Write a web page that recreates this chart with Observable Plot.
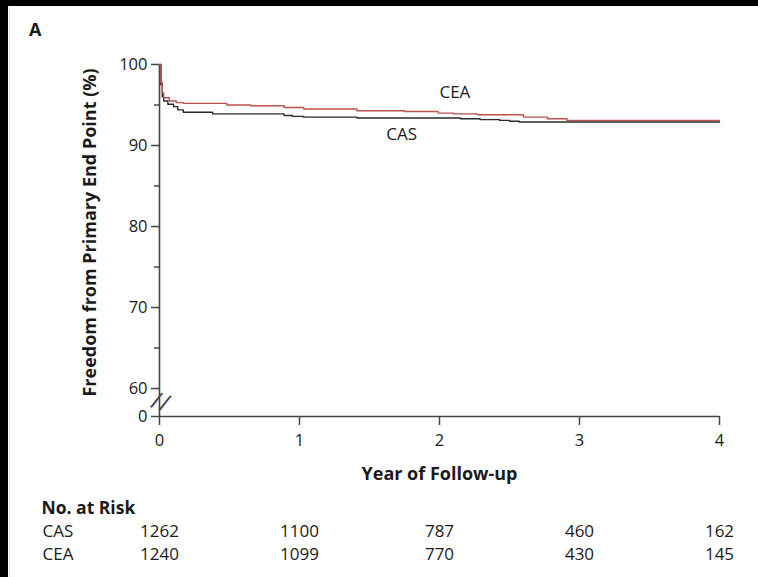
<!DOCTYPE html>
<html>
<head>
<meta charset="utf-8">
<script src="https://cdn.jsdelivr.net/npm/d3@7"></script>
<script src="https://cdn.jsdelivr.net/npm/@observablehq/plot@0.6"></script>
<style>
  body { margin: 0; background: #fff; }
  #fig { position: relative; width: 758px; height: 577px; overflow: hidden; background: #fff;
         font-family: "Open Sans", sans-serif; color: #1a1a1a; }
  #fig svg { display: block; }
  .edge-top { position: absolute; left: 0; top: 0; width: 758px; height: 6px; background: #000; }
  .edge-left { position: absolute; left: 0; top: 0; width: 8px; height: 577px; background: #000; }
  .edge-line { position: absolute; left: 9px; top: 6px; width: 1px; height: 571px; background: #e4e4e4; }
  #panel { position: absolute; left: 29px; top: 20px; font-weight: bold; font-size: 18px; line-height: 1; }
</style>
</head>
<body>
<div id="fig">
  <div id="chart"></div>
  <div id="risk"></div>
  <div id="panel">A</div>
  <div class="edge-top"></div>
  <div class="edge-left"></div>
  <div class="edge-line"></div>
</div>
<script>
// Kaplan–Meier estimates: freedom from the primary end point (%) by year of follow-up
const casYears = [0, 0.01, 0.02, 0.03, 0.06, 0.1, 0.13, 0.17, 0.38, 0.89, 0.95, 1.03, 1.41, 2.15, 2.29, 2.43, 2.5, 2.57, 4.0];
const casFree  = [100, 97.5, 96.0, 95.5, 95.1, 94.8, 94.4, 94.1, 93.9, 93.7, 93.6, 93.5, 93.4, 93.3, 93.2, 93.1, 93.0, 92.9, 92.9];

const ceaYears = [0, 0.01, 0.02, 0.03, 0.07, 0.12, 0.17, 0.48, 0.65, 0.89, 1.03, 1.41, 1.75, 1.99, 2.1, 2.27, 2.6, 2.77, 2.91, 4.0];
const ceaFree  = [100, 97.8, 96.5, 95.9, 95.5, 95.3, 95.2, 95.0, 94.9, 94.7, 94.5, 94.3, 94.2, 94.0, 93.9, 93.8, 93.5, 93.3, 93.1, 93.1];

const arms = ["CAS", "CEA"];
const armColors = ["#2a2a2a", "#bd514c"];

// in-plot curve labels
const labelNames  = ["CEA", "CAS"];
const labelYears  = [2.11, 1.73];
const labelValues = [96.5, 91.4];

// axis ticks (the y axis is broken between 0 and 60)
const xTicks = [0, 1, 2, 3, 4];
const yMajorTicks = [0, 60, 70, 80, 90, 100];
const yMinorTicks = [65, 75, 85, 95];
const yBreakLow = 0, yBreakHigh = 60;
const yBreakSpan = 3.45; // the 0–60 stretch is drawn as this many percentage points

// squeeze values below the break so 0–60 takes only a short stub of the axis
const squeeze = v => v >= yBreakHigh ? v : yBreakHigh - (yBreakHigh - v) * yBreakSpan / (yBreakHigh - yBreakLow);

// number at risk
const riskYears = [0, 1, 2, 3, 4];
const casRisk = [1262, 1100, 787, 460, 162];
const ceaRisk = [1240, 1099, 770, 430, 145];

const curves = [
  ...casYears.map((t, i) => ({arm: "CAS", year: t, free: casFree[i]})),
  ...ceaYears.map((t, i) => ({arm: "CEA", year: t, free: ceaFree[i]}))
];
const curveLabels = labelNames.map((name, i) => ({name, year: labelYears[i], free: labelValues[i]}));
const riskRows = [
  ...riskYears.map((t, i) => ({arm: "CAS", year: t, n: casRisk[i]})),
  ...riskYears.map((t, i) => ({arm: "CEA", year: t, n: ceaRisk[i]}))
];

const axisInk = "#444";
const textInk = "#1a1a1a";
const W = 758, ML = 159, MR = 39;

const chart = Plot.plot({
  width: W,
  height: 490,
  marginLeft: ML,
  marginRight: MR,
  marginTop: 64,
  marginBottom: 74,
  style: {fontFamily: "'Open Sans', sans-serif", fontSize: "16px", color: textInk, background: "transparent", overflow: "visible"},
  x: {domain: [0, 4], label: null},
  y: {transform: squeeze, domain: [squeeze(yBreakLow), 100], label: null},
  color: {domain: arms, range: armColors},
  marks: [
    Plot.ruleX([0], {stroke: axisInk, strokeWidth: 1.6}),
    Plot.ruleY([yBreakLow], {stroke: axisInk, strokeWidth: 1.6}),
    Plot.axisY(yMajorTicks, {tickSize: 8, tickPadding: 4, tickFormat: "d", stroke: axisInk, strokeWidth: 1.5, fill: textInk, fontSize: 16.5, label: null}),
    Plot.axisY(yMinorTicks, {tickSize: 5, tickFormat: () => "", stroke: axisInk, strokeWidth: 1.5, label: null}),
    Plot.axisX(xTicks, {tickSize: 9, tickPadding: 9, tickFormat: "d", stroke: axisInk, strokeWidth: 1.5, fill: textInk, fontSize: 16.5, label: null}),
    // axis break marker halfway between 0 and 60
    Plot.text([(yBreakLow + yBreakHigh) / 2], {
      x: xTicks[0], y: d => d, text: () => "//", fontSize: 24, rotate: 18, fill: axisInk, dy: 0, dx: 1
    }),
    Plot.line(curves, {x: "year", y: "free", z: "arm", stroke: "arm", strokeWidth: 1.4, curve: "step-after"}),
    Plot.text(curveLabels, {x: "year", y: "free", text: "name", fontSize: 17, fill: textInk}),
    Plot.text(["Freedom from Primary End Point (%)"], {
      frameAnchor: "left", textAnchor: "middle", rotate: -90, dx: -69, dy: -8, fontSize: 18, fontWeight: "bold", fill: textInk
    }),
    Plot.text(["Year of Follow-up"], {
      frameAnchor: "bottom", lineAnchor: "middle", dy: 58, fontSize: 18, fontWeight: "bold", fill: textInk
    })
  ]
});
document.getElementById("chart").append(chart);

const risk = Plot.plot({
  width: W,
  height: 87,
  marginLeft: ML,
  marginRight: MR,
  marginTop: 0,
  marginBottom: 0,
  style: {fontFamily: "'Open Sans', sans-serif", fontSize: "17px", color: textInk, background: "transparent", overflow: "visible"},
  x: {domain: [0, 4], axis: null},
  y: {type: "point", domain: arms, range: [41, 64], padding: 0, axis: null},
  marks: [
    Plot.text(["No. at Risk"], {
      frameAnchor: "top-left", lineAnchor: "middle", textAnchor: "start", dx: -118, dy: 18,
      fontSize: 17.5, fontWeight: "bold", fill: textInk
    }),
    Plot.text(arms, {y: d => d, frameAnchor: "left", textAnchor: "start", dx: -117, fontSize: 17, fill: textInk}),
    Plot.text(riskRows, {x: "year", y: "arm", text: d => String(d.n), fontSize: 17, fill: textInk})
  ]
});
document.getElementById("risk").append(risk);
</script>
</body>
</html>
